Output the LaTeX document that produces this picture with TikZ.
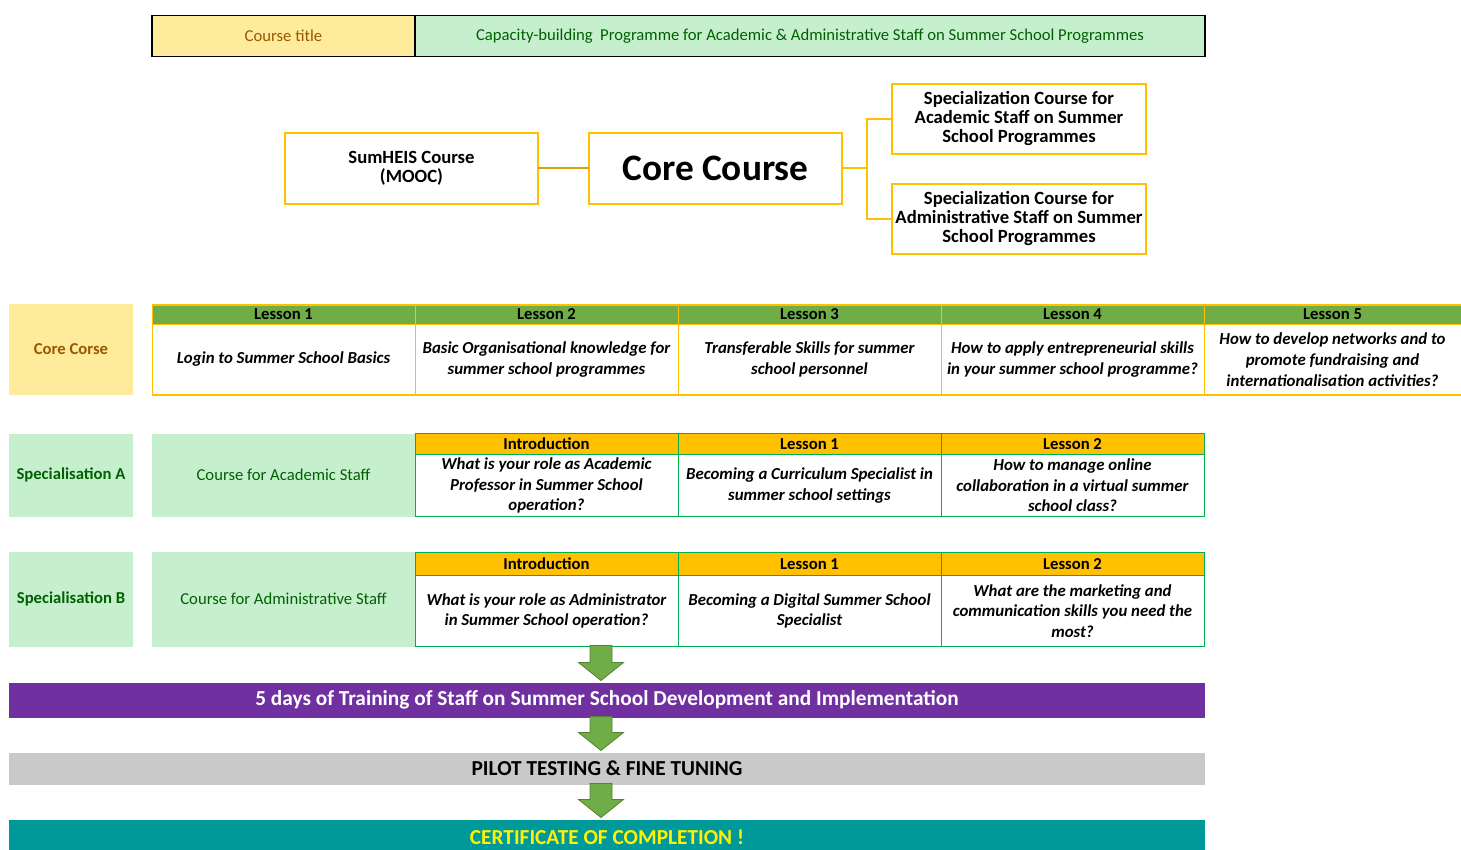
\documentclass[tikz,border=0pt]{standalone}
\usepackage{fontspec}
\setmainfont{Carlito}
\usetikzlibrary{calc}
\definecolor{neutralfill}{HTML}{FFEB9C}
\definecolor{neutraltext}{HTML}{9C5700}
\definecolor{goodfill}{HTML}{C6EFCE}
\definecolor{goodtext}{HTML}{006100}
\definecolor{gold}{HTML}{FFC000}
\definecolor{darkgold}{HTML}{D4A300}
\definecolor{lessongreen}{HTML}{70AD47}
\definecolor{tablegreen}{HTML}{00B050}
\definecolor{trainpurple}{HTML}{7030A0}
\definecolor{pilotgray}{HTML}{C9C9C9}
\definecolor{certteal}{HTML}{009999}
\definecolor{arrowdark}{HTML}{548235}
\newcommand\fs[2]{\fontsize{#1}{#2}\selectfont}
\def\blockarrow(#1)(#2){\draw[flowarrow] ($(#1)+(-11,0)$) -- ($(#1)+(11,0)$) -- ($(#2)+(11,-18)$) -- ($(#2)+(22.5,-18)$) -- (#2) -- ($(#2)+(-22.5,-18)$) -- ($(#2)+(-11,-18)$) -- cycle;}
\tikzset{
  box/.style={inner sep=0pt, outer sep=0pt, align=center},
  titlecell/.style={box, draw=black, line width=0.8pt, minimum height=30.75pt, font=\fs{12.5}{15}},
  topbox/.style={box, draw=gold, line width=1.5pt, fill=white, font=\bfseries\fs{14}{14.3}},
  sidebox/.style={box, minimum width=93pt, font=\bfseries\fs{12.5}{15}},
  coursebox/.style={box, fill=goodfill, text=goodtext, minimum width=197.25pt, font=\fs{12.5}{15}},
  lessonhead/.style={box, draw=gold, line width=0.75pt, fill=lessongreen, minimum width=197.25pt, minimum height=15pt, font=\bfseries\fs{12.5}{15}},
  lessonbody/.style={box, draw=gold, line width=0.75pt, fill=white, minimum width=197.25pt, minimum height=52.5pt, font=\bfseries\itshape\fs{12.6}{15.5}},
  spechead/.style={box, draw=tablegreen, line width=0.75pt, fill=gold, minimum width=197.25pt, font=\bfseries\fs{12.5}{15}},
  specbody/.style={box, draw=tablegreen, line width=0.75pt, fill=white, minimum width=197.25pt, font=\bfseries\itshape\fs{12.6}{15.4}},
  bar/.style={box, minimum width=897pt, font=\bfseries\fs{16}{18}},
  flowarrow/.style={fill=lessongreen, draw=arrowdark, line width=0.6pt}
}
\begin{document}
\begin{tikzpicture}[x=0.75pt, y=-0.75pt]
		%%%%% START %%%%%
		\useasboundingbox (0,0) rectangle (1461,850);
		
		\node[titlecell, fill=neutralfill, text=neutraltext, minimum width=197.25pt] (ctitle) at (283.5,36) {Course title};
		\node[titlecell, fill=goodfill, text=goodtext, minimum width=592.5pt] (ptitle) at (810,36) {Capacity-building~ Programme for Academic \& Administrative Staff on Summer School Programmes};
		
		\node[topbox, minimum width=189.75pt, minimum height=53.25pt] (sumheis) at (411.5,168) {SumHEIS Course\\(MOOC)};
		\node[topbox, minimum width=189.75pt, minimum height=53.25pt, font=\bfseries\fs{28}{30}] (core) at (715.5,168) {Core Course};
		\node[topbox, minimum width=190.5pt, minimum height=52.5pt] (specacad) at (1019,118.5) {Specialization Course for\\Academic Staff on Summer\\School Programmes};
		\node[topbox, minimum width=190.5pt, minimum height=52.5pt] (specadmin) at (1019,218.5) {Specialization Course for\\Administrative Staff on Summer\\School Programmes};
		
		\draw[darkgold, line width=1.5pt] (sumheis) -- (core);
		\draw[gold, line width=1.5pt] (core.east) -- ++(25,0) coordinate (fork);
		\draw[gold, line width=1.5pt] (fork) |- (specacad.west);
		\draw[gold, line width=1.5pt] (fork) |- (specadmin.west);
		
		% core course row
		\node[sidebox, fill=neutralfill, text=neutraltext, minimum height=68.25pt] (corecorse) at (71,349) {Core Corse};
		\node[lessonhead] (les1) at (283.5,314.5) {Lesson 1};
		\node[lessonhead] (les2) at (546.5,314.5) {Lesson 2};
		\node[lessonhead] (les3) at (809.5,314.5) {Lesson 3};
		\node[lessonhead] (les4) at (1072.5,314.5) {Lesson 4};
		\node[lessonhead, minimum width=192.75pt] (les5) at (1332.5,314.5) {Lesson 5};
		\node[lessonbody] (core1) at (283.5,359.5) {Login to Summer School Basics};
		\node[lessonbody] (core2) at (546.5,359.5) {Basic Organisational knowledge for\\summer school programmes};
		\node[lessonbody] (core3) at (809.5,359.5) {Transferable Skills for summer\\school personnel};
		\node[lessonbody] (core4) at (1072.5,359.5) {How to apply entrepreneurial skills\\in your summer school programme?};
		\node[lessonbody, minimum width=192.75pt] (core5) at (1332.5,359.5) {How to develop networks and to\\promote fundraising and\\internationalisation activities?};
		\draw[gold, line width=1.5pt] (les1.north west) -- (les5.north east);
		\draw[gold, line width=1.5pt] (core1.south west) -- (core5.south east);
		
		% specialisation A
		\node[sidebox, fill=goodfill, text=goodtext, minimum height=62.25pt] (speca) at (71,475) {Specialisation A};
		\node[coursebox, minimum height=62.25pt] (acadcourse) at (283.5,475) {Course for Academic Staff};
		\node[spechead, minimum height=15.75pt] (introa) at (546.5,444) {Introduction};
		\node[spechead, minimum height=15.75pt] (lesa1) at (809.5,444) {Lesson 1};
		\node[spechead, minimum height=15.75pt] (lesa2) at (1072.5,444) {Lesson 2};
		\node[specbody, minimum height=46.5pt] (acad0) at (546.5,485.5) {What is your role as Academic\\Professor in Summer School\\operation?};
		\node[specbody, minimum height=46.5pt] (acad1) at (809.5,485.5) {Becoming a Curriculum Specialist in\\summer school settings};
		\node[specbody, minimum height=46.5pt] (acad2) at (1072.5,485.5) {How to manage online\\collaboration in a virtual summer\\school class?};
		
		% specialisation B
		\node[sidebox, fill=goodfill, text=goodtext, minimum height=71.25pt] (specb) at (71,599) {Specialisation B};
		\node[coursebox, minimum height=71.25pt] (admincourse) at (283.5,599) {Course for Administrative Staff};
		\node[spechead, minimum height=17.25pt] (introb) at (546.5,564) {Introduction};
		\node[spechead, minimum height=17.25pt] (lesb1) at (809.5,564) {Lesson 1};
		\node[spechead, minimum height=17.25pt] (lesb2) at (1072.5,564) {Lesson 2};
		\node[specbody, minimum height=53.25pt] (admin0) at (546.5,611) {What is your role as Administrator\\in Summer School operation?};
		\node[specbody, minimum height=53.25pt] (admin1) at (809.5,611) {Becoming a Digital Summer School\\Specialist};
		\node[specbody, minimum height=53.25pt] (admin2) at (1072.5,611) {What are the marketing and\\communication skills you need the\\most?};
		
		% bars
		\node[bar, fill=trainpurple, text=white, minimum height=26.25pt] (training) at (607,700) {5 days of Training of Staff on Summer School Development and Implementation};
		\node[bar, fill=pilotgray, text=black, minimum height=24pt] (pilot) at (607,768.5) {PILOT TESTING \& FINE TUNING};
		\node[bar, fill=certteal, text=yellow, minimum height=27pt] (certificate) at (607,837.5) {CERTIFICATE OF COMPLETION !};
		
		\coordinate (arrowx) at (601,0);
		\coordinate (top1) at ($(admin0.south -| arrowx)+(0,-1)$);
		\coordinate (tip1) at ($(training.north -| arrowx)+(0,-2)$);
		\coordinate (top2) at ($(training.south -| arrowx)+(0,-1)$);
		\coordinate (tip2) at ($(pilot.north -| arrowx)+(0,-2)$);
		\coordinate (top3) at ($(pilot.south -| arrowx)+(0,-1)$);
		\coordinate (tip3) at ($(certificate.north -| arrowx)+(0,-2)$);
		\blockarrow(top1)(tip1)
		\blockarrow(top2)(tip2)
		\blockarrow(top3)(tip3)
		
		%%%%% END %%%%%
\end{tikzpicture}
\end{document}
